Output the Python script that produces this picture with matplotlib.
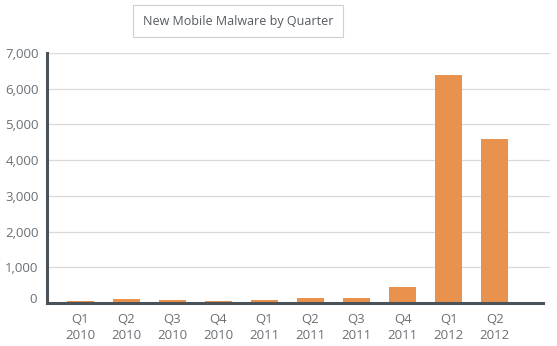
import numpy as np
import matplotlib.pyplot as plt
import matplotlib.transforms as mtransforms

plt.rcParams['font.family'] = ['Open Sans', 'DejaVu Sans']

quarters = ['Q1\n2010', 'Q2\n2010', 'Q3\n2010', 'Q4\n2010', 'Q1\n2011',
            'Q2\n2011', 'Q3\n2011', 'Q4\n2011', 'Q1\n2012', 'Q2\n2012']
malware = [50, 110, 80, 50, 80, 140, 140, 450, 6390, 4600]
yticks = [0, 1000, 2000, 3000, 4000, 5000, 6000, 7000]

fig = plt.figure(figsize=(5.57, 3.46), dpi=100)
ax = fig.add_axes([47/557, 1 - 303/346, (550-47)/557, 250/346])

x = np.arange(len(quarters))
ax.bar(x, malware, width=0.59, color='#E8924E', zorder=2)

ax.set_xlim(-0.72, 10.2)
ax.set_ylim(0, 7000)
ax.set_yticks(yticks)
ax.set_yticklabels(['{:,}'.format(v) for v in yticks])
ax.set_xticks(x)
ax.set_xticklabels(quarters, linespacing=1.3)
ax.tick_params(axis='both', length=0, colors='#6b7075', labelsize=9.5)
ax.tick_params(axis='y', pad=6)
ax.tick_params(axis='x', pad=7)
ax.yaxis.grid(True, color='#d9d9d9', linewidth=0.9, zorder=0)
ax.set_axisbelow(True)

# the "0" label sits a little above the baseline
zero = ax.get_yticklabels()[0]
zero.set_transform(zero.get_transform() + mtransforms.ScaledTranslation(-2/100, 5/100, fig.dpi_scale_trans))

for s in ['top', 'right', 'bottom']:
    ax.spines[s].set_visible(False)
ax.spines['left'].set_color('#4a525a')
ax.spines['left'].set_linewidth(2.2)
ax.axhline(0, xmin=0, xmax=(543-47)/(550-47), color='#4a525a', linewidth=2.2, zorder=3, clip_on=False)

fig.text(238/557, 1 - 21/346, 'New Mobile Malware by Quarter', ha='center', va='center',
         fontsize=9, color='#555a60',
         bbox=dict(boxstyle='square,pad=0.75', facecolor='white', edgecolor='#d0d0d0', linewidth=0.8))

fig.savefig('out.png', dpi=100)
